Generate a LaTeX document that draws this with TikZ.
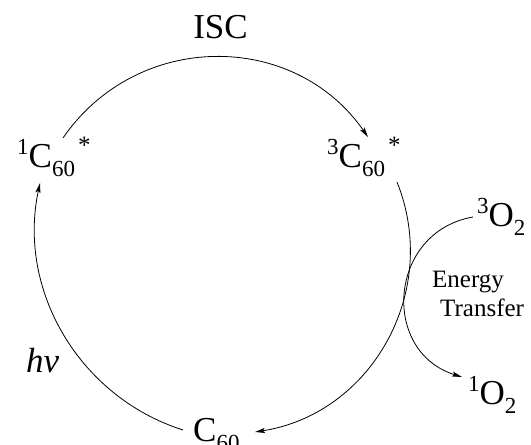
\documentclass[tikz,border=0pt]{standalone}
\usepackage{fontspec}
\setmainfont{Liberation Serif}
\usetikzlibrary{arrows.meta}
\newcommand\supx[1]{\raisebox{13pt}{\fontsize{23}{23}\selectfont #1}}
\newcommand\subx[1]{\raisebox{-9pt}{\fontsize{23}{23}\selectfont #1}}
\newcommand\astx{\kern3pt\raisebox{14pt}{\fontsize{25}{25}\selectfont *}}
\begin{document}
\begin{tikzpicture}[x=1pt,y=1pt,
  lbl/.style={inner sep=0pt, font=\fontsize{35}{40}\selectfont, anchor=base west},
  small/.style={inner sep=0pt, font=\fontsize{25}{28}\selectfont, anchor=base west},
  conn/.style={line width=0.8pt, -{Stealth[length=10pt,width=5pt,inset=2pt]}}]
\useasboundingbox (0,0) rectangle (531,445);
\node[lbl, anchor=base] (isc) at (220.5,406) {ISC};
\node[lbl] (c1) at (17,277) {\supx{1}C\subx{60}\astx};
\node[lbl] (c3) at (327,277) {\supx{3}C\subx{60}\astx};
\node[lbl] (c0) at (193,3) {C\subx{60}};
\node[lbl] (o3) at (477,218) {\supx{3}O\subx{2}};
\node[lbl] (o1) at (468,40) {\supx{1}O\subx{2}};
\node[lbl] (hv) at (26,72) {\textit{hv}};
\node[small] (en) at (432,157) {Energy};
\node[small] (tr) at (440,128) {Transfer};
\coordinate (iscS) at (63,307);
\coordinate (iscE) at (368,308);
\coordinate (rS) at (397,263);
\coordinate (rE) at (255,13);
\coordinate (lS) at (183,15);
\coordinate (lE) at (40,262);
\coordinate (eS) at (473,228);
\coordinate (eE) at (462,68);
\draw[conn] (iscS) to[out=55.5,in=124.8,looseness=1.09] (iscE);
\draw[conn] (rS) to[out=-68.1,in=8.9,looseness=1.05] (rE);
\draw[conn] (lS) to[out=162.3,in=257.9,looseness=0.98] (lE);
\draw[conn] (eS) to[out=189.9,in=162.6,looseness=1.37] (eE);
\end{tikzpicture}
\end{document}
